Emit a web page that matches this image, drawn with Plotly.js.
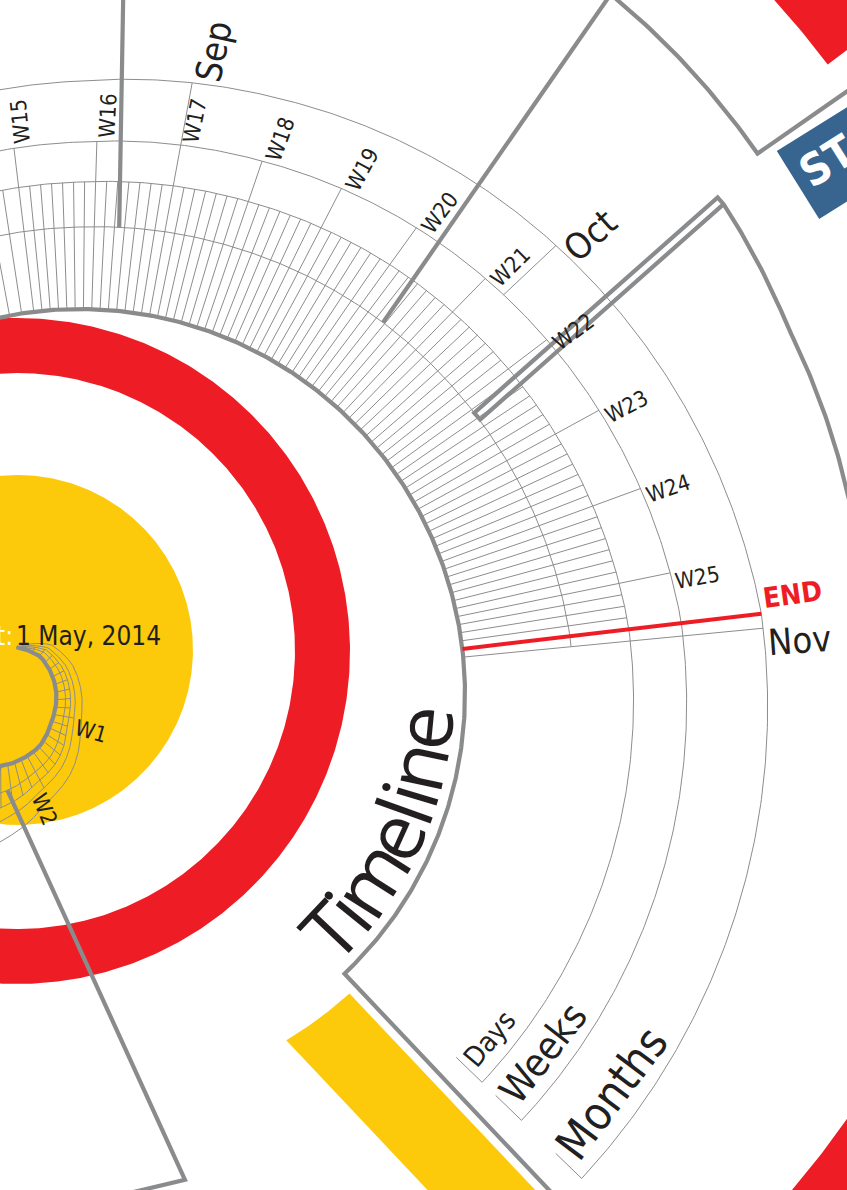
<!DOCTYPE html>
<html><head><meta charset="utf-8">
<script src="https://cdn.plot.ly/plotly-3.0.1.min.js"></script>
<style>html,body{margin:0;padding:0;background:#fff;overflow:hidden}#chart{width:847px;height:1190px}</style>
</head><body><div id="chart"></div>
<script>
// ================= DATA =================
const startPrefix = 'Start:';
const startLabel = '1 May, 2014';
const monthNames = ['May', 'Jun', 'Jul', 'Aug', 'Sep', 'Oct', 'Nov'];
const monthStartDay = [0, 31, 61, 92, 123, 153, 184];
const weekLabels = ['W1','W2','W3','W4','W5','W6','W7','W8','W9','W10','W11','W12','W13','W14','W15','W16','W17','W18','W19','W20','W21','W22','W23','W24','W25'];
const weekStartDay = [11,18,25,32,39,46,53,60,67,74,81,88,95,102,109,116,123,130,137,144,151,158,165,172,179];
const totalDays = 184;
const endDay = 183;
const bandNames = ['Days', 'Weeks', 'Months'];
const titleText = 'Timeline';
const endText = 'END';
const startBoxText = 'START';

// ================= STYLE / GEOMETRY =================
const W = 847, H = 1190, DEG = Math.PI / 180;
const C_RED = '#ee1d25', C_YEL = '#fdc90b', C_BLUE = '#37658f', C_GRAY = '#8a8b8d', C_THIN = '#8d8d8d', C_TXT = '#231f20';

function interp(kn, x) {
  if (x <= kn[0][0]) return kn[0][1];
  for (let i = 1; i < kn.length; i++) {
    if (x <= kn[i][0]) { const [x0, y0] = kn[i-1], [x1, y1] = kn[i]; return y0 + (y1 - y0) * (x - x0) / (x1 - x0); }
  }
  return kn[kn.length-1][1];
}
// day -> spiral angle (deg, clockwise from north)
const dayPhiKn = [[0,16],[11,100],[18,152],[25,200],[109,353.1],[123,370.4],[153,406.7],[184,444.5]];
const phiOfDay = d => interp(dayPhiKn, d);
// spiral centre, inner radius and band scale as functions of angle
function ctr(phi) { const t = Math.min(1, Math.max(0, (phi - 180) / 150)); return [80 * t, 705 - 11 * t]; }
const Rk = [[16,60],[40,63],[60,60],[97,55],[112,54],[135,57],[156,58],[180,61],[330,385]];
const Sk = [[16,0],[40,0.07],[60,0.1],[100,0.12],[155,0.22],[180,0.33],[330,0.94],[360,1.0],[378.6,1.066],[397.6,1.145],[443,1.32],[494,1.37]];
const bandOff = [0, 82, 127, 167, 228];
const ringR = (phi, j) => interp(Rk, phi) + bandOff[j] * interp(Sk, phi);
function P(phi, r) { const c = ctr(phi); return [c[0] + r * Math.sin(phi * DEG), c[1] - r * Math.cos(phi * DEG)]; }
const OC = [108, 605];
function Po(phi, r) { return [OC[0] + r * Math.sin(phi * DEG), OC[1] - r * Math.cos(phi * DEG)]; }
function ray(p, ang, len) { return [p[0] + len * Math.cos(ang * DEG), p[1] + len * Math.sin(ang * DEG)]; }
const normAng = a => ((a % 360) + 540) % 360 - 180;
const onPage = p => p[0] > 2 && p[0] < W + 40 && p[1] > -40 && p[1] < H + 40;

// fonts
const ctx = document.createElement('canvas').getContext('2d');
function has(f) { ctx.font = '40px monospace'; const a = ctx.measureText('abcWMil1234').width; ctx.font = '40px "' + f + '", monospace'; return ctx.measureText('abcWMil1234').width !== a; }
const COND = has('Liberation Sans Narrow') ? 'Liberation Sans Narrow' : (has('DejaVu Sans Condensed') ? 'DejaVu Sans Condensed' : 'Roboto');
const REG = 'Open Sans';
function mw(t, fam, bold) { ctx.font = (bold ? 'bold ' : '') + '100px "' + fam + '"'; return ctx.measureText(t).width / 100; }

// ================= TRACES =================
const traces = [];
function addPath(tr, pts) { pts.forEach(p => { tr.x.push(p[0]); tr.y.push(p[1]); }); tr.x.push(null); tr.y.push(null); }
function fillTrace(pts, color) {
  traces.push({ type: 'scatter', mode: 'lines', x: pts.map(p => p[0]), y: pts.map(p => p[1]), fill: 'toself', fillcolor: color, line: { width: 0, color: color }, hoverinfo: 'skip' });
}
function annulus(c, r0, r1, a0, a1) {
  const pts = [];
  for (let a = a0; a <= a1; a += 0.5) pts.push([c[0] + r1 * Math.sin(a * DEG), c[1] - r1 * Math.cos(a * DEG)]);
  for (let a = a1; a >= a0; a -= 0.5) pts.push([c[0] + r0 * Math.sin(a * DEG), c[1] - r0 * Math.cos(a * DEG)]);
  return pts;
}
// big outer red ring (two visible sectors)
fillTrace(annulus(OC, 900, 1400, -30, 53.1), C_RED);
fillTrace(annulus(OC, 900, 1400, 100, 200), C_RED);
// red ring
fillTrace(annulus([17, 651], 278, 333, 0, 360), C_RED);
// yellow centre disc
fillTrace(annulus([18, 650], 0, 175, 0, 360), C_YEL);
// yellow bar along the end radius
(function () {
  const c = [80, 694], ph = 136.6 * DEG, d = [Math.sin(ph), -Math.cos(ph)], tg = [Math.cos(ph), Math.sin(ph)];
  const pts = [];
  for (let n = 10; n <= 89; n += 2) { const t = Math.sqrt(403 * 403 - n * n); pts.push([c[0] + t * d[0] + n * tg[0], c[1] + t * d[1] + n * tg[1]]); }
  pts.push([c[0] + 1100 * d[0] + 89 * tg[0], c[1] + 1100 * d[1] + 89 * tg[1]]);
  pts.push([c[0] + 1100 * d[0] + 10 * tg[0], c[1] + 1100 * d[1] + 10 * tg[1]]);
  fillTrace(pts, C_YEL);
})();
// START box
const SB = { o: [798, 185], ang: -32, half: 40, len: 240 };
(function () {
  const u = [Math.cos(SB.ang * DEG), Math.sin(SB.ang * DEG)], n = [-u[1], u[0]];
  const o = SB.o, h = SB.half, L = SB.len;
  fillTrace([[o[0] - h * n[0], o[1] - h * n[1]], [o[0] - h * n[0] + L * u[0], o[1] - h * n[1] + L * u[1]],
             [o[0] + h * n[0] + L * u[0], o[1] + h * n[1] + L * u[1]], [o[0] + h * n[0], o[1] + h * n[1]]], C_BLUE);
})();

// thin grid
const thin = { type: 'scatter', mode: 'lines', x: [], y: [], line: { color: C_THIN, width: 1 }, hoverinfo: 'skip' };
function ringPath(j, p0, p1) { const pts = []; for (let p = p0; p < p1; p += 0.4) pts.push(P(p, ringR(p, j))); pts.push(P(p1, ringR(p1, j))); return pts; }
const phiNov = phiOfDay(totalDays), phiEnd = phiOfDay(endDay), phiBand = 494;
addPath(thin, ringPath(1, 16, phiNov));
[2, 3, 4].forEach(j => addPath(thin, ringPath(j, 16, phiBand)));
for (let d = 1; d < totalDays; d++) { if (d === endDay) continue; const p = phiOfDay(d); addPath(thin, [P(p, ringR(p, 0)), P(p, ringR(p, 2))]); }
weekStartDay.forEach(d => { const p = phiOfDay(d); addPath(thin, [P(p, ringR(p, 2)), P(p, ringR(p, 3))]); });
monthStartDay.forEach(d => { const p = phiOfDay(d); addPath(thin, d === totalDays ? [P(p, ringR(p, 0)), P(p, ringR(p, 4))] : [P(p, ringR(p, 3)), P(p, ringR(p, 4))]); });
[2, 3, 4].forEach(j => { const r = ringR(phiBand, j); addPath(thin, [P(phiBand, r), P(phiBand, r - 36)]); });
traces.push(thin);

// thick outlines
const thick = { type: 'scatter', mode: 'lines', x: [], y: [], line: { color: C_GRAY, width: 4.2 }, hoverinfo: 'skip' };
(function () {
  const tlEnd = 496.6, pts = [];
  for (let p = 16; p < tlEnd; p += 0.4) pts.push(P(p, ringR(p, 0)));
  pts.push(P(tlEnd, 385)); pts.push(P(tlEnd, 1200));
  addPath(thick, pts);
  let a = P(364.8, ringR(364.8, 1)); addPath(thick, [a, ray(a, -89, 300)]);
  a = P(399.2, ringR(399.2, 1)); addPath(thick, [a, ray(a, -55.25, 450)]);
  const p0 = P(414.5, ringR(414.5, 1)), p1 = ray(p0, -41.5, 325), nr = [Math.sin(41.5 * DEG), Math.cos(41.5 * DEG)];
  const q0 = [p0[0] + 9 * nr[0], p0[1] + 9 * nr[1]], q1 = [p1[0] + 9 * nr[0], p1[1] + 9 * nr[1]];
  const qphi = Math.atan2(q1[0] - OC[0], -(q1[1] - OC[1])) / DEG, qr = Math.hypot(q1[0] - OC[0], q1[1] - OC[1]);
  const arc = [];
  for (let p = 100; p > qphi; p -= 0.4) arc.push(Po(p, qr + Math.max(0, p - 68) * 1.0));
  arc.push(q1, p1, p0, q0, q1); addPath(thick, arc);
  const tp = []; for (let p = 36; p < 55.2; p += 0.4) tp.push(Po(p, 791)); tp.push(Po(55.2, 791), Po(55.2, 1000)); addPath(thick, tp);
  a = P(175, ringR(175, 1)); const b = ray(a, 65.5, 428); addPath(thick, [a, b, ray(b, 166.6, 120)]);
})();
traces.push(thick);
// END line
traces.push({ type: 'scatter', mode: 'lines', x: [P(phiEnd, ringR(phiEnd, 0))[0], P(phiEnd, ringR(phiEnd, 4))[0]],
  y: [P(phiEnd, ringR(phiEnd, 0))[1], P(phiEnd, ringR(phiEnd, 4))[1]], line: { color: C_RED, width: 4 }, hoverinfo: 'skip' });

// ================= TEXT =================
const anns = [];
function ann(pt, text, fam, size, angle, color, extra) {
  anns.push(Object.assign({ xref: 'paper', yref: 'paper', x: pt[0] / W, y: 1 - pt[1] / H, text: text, showarrow: false,
    textangle: angle, xanchor: 'center', yanchor: 'middle', borderpad: 0, font: { family: fam, size: size, color: color } }, extra || {}));
}
// week labels
const fW = 22;
weekLabels.forEach((lab, k) => {
  const pd = phiOfDay(weekStartDay[k]), len = mw(lab, COND) * fW;
  const r = ringR(pd, 3) + 4 + len / 2, pl = pd + (10 / r) / DEG;
  const pt = P(pl, r);
  if (onPage(pt)) ann(pt, lab, COND, fW, normAng(pl - 90), C_TXT);
});
// month labels
const fM = 36;
monthNames.forEach((m, i) => {
  if (i === 0) return;
  const pd = phiOfDay(monthStartDay[i]), len = mw(m, COND) * fM;
  const r = ringR(pd, 4) + 4 + len / 2, pl = pd + (16 / r) / DEG;
  const pt = P(pl, r);
  if (onPage(pt)) ann(pt, m, COND, fM, normAng(pl - 90), C_TXT);
});
// END
(function () {
  const fE = 28, len = mw(endText, COND, true) * fE;
  const r = ringR(phiEnd, 4) + 4 + len / 2, pl = phiEnd - (15 / r) / DEG;
  ann(P(pl, r), '<b>' + endText + '</b>', COND, fE, normAng(pl - 90), C_RED);
})();
// band labels
const bandSize = [28, 39, 46], bandInset = [23, 27, 31];
bandNames.forEach((b, i) => {
  const len = mw(b, COND) * bandSize[i];
  const r0 = ringR(phiBand - 4, i + 2) - bandInset[i];
  const pl = phiBand - 0.6 - (len / 2 / r0) / DEG;
  ann(P(pl, ringR(pl, i + 2) - bandInset[i]), b, COND, bandSize[i], normAng(pl - 180), C_TXT);
});
// "Timeline" set along the arc
(function () {
  const rb = 374, a0 = 136.5, a1 = 92.5, L = rb * (a0 - a1) * DEG;
  const F = 1.08 * L / mw(titleText, REG);
  const sp = L / (mw(titleText, REG) * F);
  let acc = 0;
  for (const ch of titleText) {
    const w = mw(ch, REG) * F * sp;
    const ph = a0 - ((acc + w / 2) / rb) / DEG + 360;
    acc += w;
    ann(P(ph, rb - 0.39 * F), ch, REG, F, normAng(ph - 180), C_TXT);
  }
})();
// start date text
ann([15, 636], startLabel, COND, 26, 0, C_TXT, { xanchor: 'left' });
ann([13.5, 636], startPrefix, COND, 26, 0, '#ffffff', { xanchor: 'right' });
// START box text
(function () {
  const u = [Math.cos(SB.ang * DEG), Math.sin(SB.ang * DEG)], n = [-u[1], u[0]];
  const fs = 44, len = mw(startBoxText, COND, true) * fs, t = 9 + len / 2;
  ann([SB.o[0] + t * u[0] - 5 * n[0], SB.o[1] + t * u[1] - 5 * n[1]], '<b>' + startBoxText + '</b>', COND, fs, SB.ang, '#ffffff');
})();

const layout = {
  width: W, height: H, margin: { l: 0, r: 0, t: 0, b: 0 }, paper_bgcolor: '#ffffff', plot_bgcolor: '#ffffff', showlegend: false,
  xaxis: { range: [0, W], visible: false, fixedrange: true },
  yaxis: { range: [H, 0], visible: false, fixedrange: true },
  annotations: anns
};
Plotly.newPlot('chart', traces, layout, { staticPlot: true, displayModeBar: false });
</script></body></html>
